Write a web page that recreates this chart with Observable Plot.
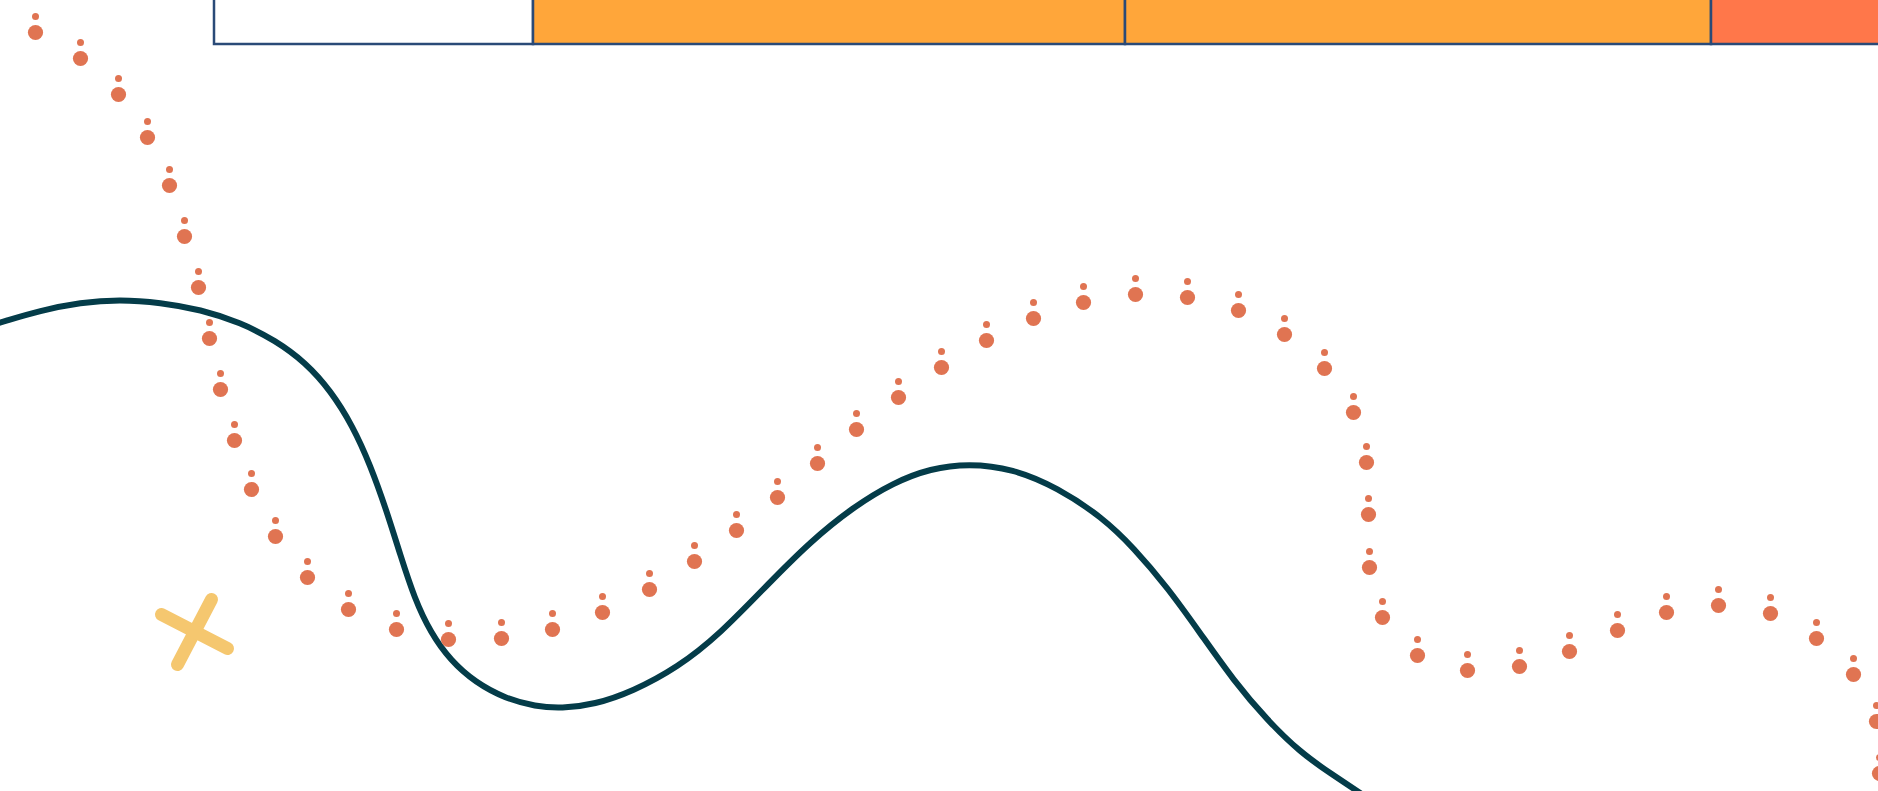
<!DOCTYPE html>
<html>
<head>
<meta charset="utf-8">
<script src="https://cdn.jsdelivr.net/npm/d3@7"></script>
<script src="https://cdn.jsdelivr.net/npm/@observablehq/plot@0.6"></script>
<style>
  html, body { margin: 0; padding: 0; background: #ffffff; overflow: hidden; }
  #chart svg { display: block; }
</style>
</head>
<body>
<div id="chart"></div>
<script>
// Top strip: segment edges and fills
const stripStart = [214, 533, 1125, 1711];
const stripEnd   = [533, 1125, 1711, 1890];
const stripFill  = ["#ffffff", "#FFA63A", "#FFA63A", "#FF774A"];

// Dotted trail (big dot centres; a small dot sits just above each)
const trailX = [35, 80, 118, 147, 169, 184, 198, 209, 220, 234, 251, 275, 307, 348, 396, 448, 501, 552, 602, 649, 694, 736, 777, 817, 856, 898, 941, 986, 1033, 1083, 1135, 1187, 1238, 1284, 1324, 1353, 1366, 1368, 1369, 1382, 1417, 1467, 1519, 1569, 1617, 1666, 1718, 1770, 1816, 1853, 1876, 1879];
const trailY = [32, 58, 94, 137, 185, 236, 287, 338, 389, 440, 489, 536, 577, 609, 629, 639, 638, 629, 612, 589, 561, 530, 497, 463, 429, 397, 367, 340, 318, 302, 294, 297, 310, 334, 368, 412, 462, 514, 567, 617, 655, 670, 666, 651, 630, 612, 605, 613, 638, 674, 721, 773];

// Dark wavy line
const curveX = [-4, 0, 40, 80, 119, 160, 200, 240, 275, 305, 330, 352, 370, 386, 400, 414, 430, 450, 475, 505, 535, 561, 594, 632, 677, 719, 769, 810, 852, 893, 930, 968, 1012, 1057, 1102, 1133, 1167, 1200, 1233, 1267, 1300, 1330, 1365, 1370];
const curveY = [323, 322, 310, 302, 299, 302, 309, 322, 340, 362, 390, 425, 465, 510, 555, 598, 632, 660, 682, 698, 706, 708, 704, 691, 667, 634, 582, 541, 507, 482, 468, 463, 468, 487, 517, 547, 587, 633, 680, 720, 752, 773, 796, 799];

// Cross mark strokes
const crossX1 = [211, 161];
const crossY1 = [599, 614];
const crossX2 = [177, 227];
const crossY2 = [664, 648];

const strip = stripStart.map((s, i) => ({x1: s, x2: stripEnd[i], fill: stripFill[i]}));
const trail = trailX.map((x, i) => ({x, y: trailY[i]}));
const curve = curveX.map((x, i) => ({x, y: curveY[i]}));
const cross = crossX1.map((x, i) => ({x1: x, y1: crossY1[i], x2: crossX2[i], y2: crossY2[i]}));

const W = 1878, H = 791;
const chart = Plot.plot({
  width: W,
  height: H,
  margin: 0,
  x: {domain: [0, W], range: [0, W], axis: null},
  y: {domain: [0, H], range: [0, H], axis: null},
  style: {background: "#ffffff", overflow: "hidden"},
  marks: [
    Plot.rect(strip, {x1: "x1", x2: "x2", y1: -6, y2: 44, fill: d => d.fill, stroke: "#2A4A77", strokeWidth: 2.5}),
    Plot.line(curve, {x: "x", y: "y", curve: "basis", stroke: "#043C49", strokeWidth: 6}),
    Plot.link(cross, {x1: "x1", y1: "y1", x2: "x2", y2: "y2", stroke: "#F5C76F", strokeWidth: 13, strokeLinecap: "round"}),
    Plot.dot(trail, {x: "x", y: "y", r: 7.6, fill: "#E07452"}),
    Plot.dot(trail, {x: "x", y: "y", dy: -16, r: 3.5, fill: "#E07452"})
  ]
});
document.getElementById("chart").appendChild(chart);
</script>
</body>
</html>
